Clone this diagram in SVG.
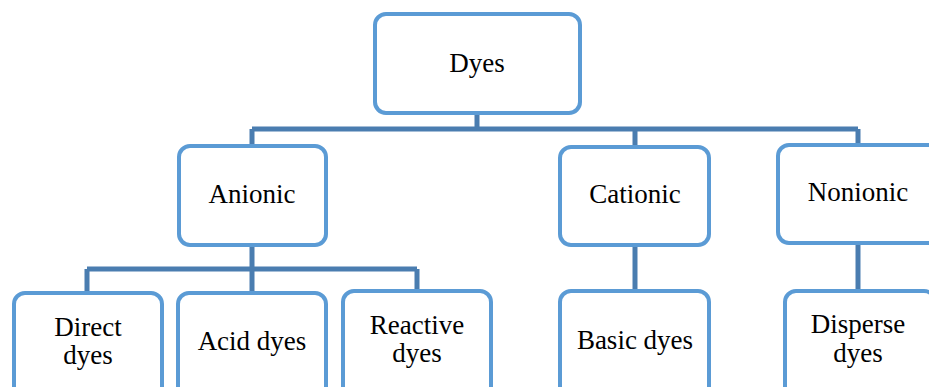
<svg xmlns="http://www.w3.org/2000/svg" width="929" height="387" viewBox="0 0 929 387">
<style>
.box{fill:#ffffff;stroke:#5b9bd5;stroke-width:4}
.con{fill:none;stroke:#4a7db0;stroke-width:5}
text{font-family:"Liberation Serif","Times New Roman",serif;font-size:27px;fill:#000;text-anchor:middle}
</style>
<rect width="929" height="387" fill="#ffffff"/>
<g id="connectors">
<path class="con" d="M477,113 V129 M252,129 H858 M252,129 V146 M635,129 V147 M858,129 V145"/>
<path class="con" d="M252,245 V269 M87,269 H417 M87,269 V293 M252,269 V293 M417,269 V291"/>
<path class="con" d="M635,245 V291"/>
<path class="con" d="M858,243 V291"/>
</g>
<g id="n-dyes"><rect class="box" x="375" y="14" width="205" height="99" rx="11"/><text x="477" y="72">Dyes</text></g>
<g id="n-anionic"><rect class="box" x="179" y="146" width="147" height="99" rx="11"/><text x="252" y="203">Anionic</text></g>
<g id="n-cationic"><rect class="box" x="560" y="147" width="149" height="98" rx="11"/><text x="635" y="203">Cationic</text></g>
<g id="n-nonionic"><rect class="box" x="778" y="145" width="162" height="98" rx="11"/><text x="858" y="201">Nonionic</text></g>
<g id="n-direct"><rect class="box" x="14" y="293" width="148" height="110" rx="11"/><text x="88" y="336">Direct<tspan x="88" dy="28">dyes</tspan></text></g>
<g id="n-acid"><rect class="box" x="178" y="293" width="148" height="110" rx="11"/><text x="252" y="350">Acid dyes</text></g>
<g id="n-reactive"><rect class="box" x="343" y="291" width="148" height="110" rx="11"/><text x="417" y="334">Reactive<tspan x="417" dy="28">dyes</tspan></text></g>
<g id="n-basic"><rect class="box" x="560" y="291" width="149" height="110" rx="11"/><text x="635" y="349">Basic dyes</text></g>
<g id="n-disperse"><rect class="box" x="785" y="291" width="150" height="110" rx="11"/><text x="858" y="333">Disperse<tspan x="858" dy="29">dyes</tspan></text></g>
</svg>
